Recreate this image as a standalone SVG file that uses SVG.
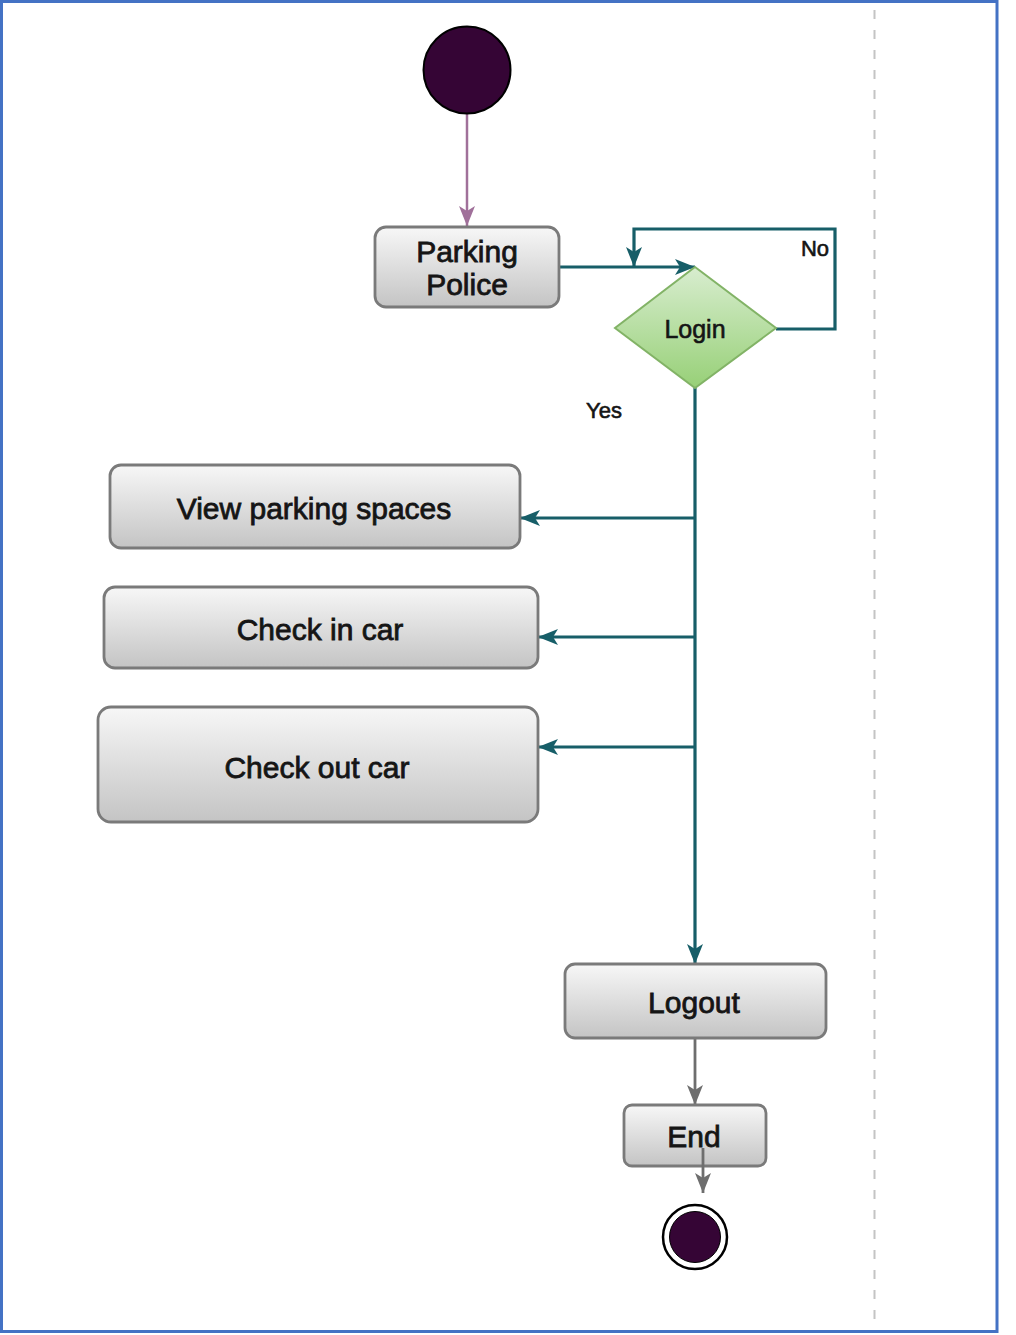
<svg xmlns="http://www.w3.org/2000/svg" width="1016" height="1335" viewBox="0 0 1016 1335">
<defs>
<linearGradient id="gBox" x1="0" y1="0" x2="0" y2="1">
<stop offset="0" stop-color="#f7f7f7"/>
<stop offset="1" stop-color="#c4c4c4"/>
</linearGradient>
<linearGradient id="gDia" x1="0" y1="0" x2="0" y2="1">
<stop offset="0" stop-color="#d8edcf"/>
<stop offset="1" stop-color="#97d077"/>
</linearGradient>
<marker id="aTeal" markerUnits="userSpaceOnUse" markerWidth="22" markerHeight="18" refX="20" refY="9" orient="auto">
<path d="M0,1 L20,9 L0,17 L5,9 Z" fill="#175e68"/>
</marker>
<marker id="aPink" markerUnits="userSpaceOnUse" markerWidth="22" markerHeight="18" refX="20" refY="9" orient="auto">
<path d="M0,1 L20,9 L0,17 L5,9 Z" fill="#a0709a"/>
</marker>
<marker id="aGray" markerUnits="userSpaceOnUse" markerWidth="22" markerHeight="18" refX="20" refY="9" orient="auto">
<path d="M0,1 L20,9 L0,17 L5,9 Z" fill="#6e6e6e"/>
</marker>
</defs>
<style>
.box{fill:url(#gBox);stroke:#7a7a7a;stroke-width:2.8}
.lbl{font-family:"Liberation Sans",Arial,sans-serif;font-size:30px;fill:#151515;text-anchor:middle;stroke:#151515;stroke-width:0.8}
.sm{font-family:"Liberation Sans",Arial,sans-serif;font-size:22px;fill:#151515;text-anchor:middle;stroke:#151515;stroke-width:0.6}
.teal{fill:none;stroke:#175e68;stroke-width:3.2}
</style>
<rect x="1.5" y="1.5" width="995.5" height="1330" fill="#ffffff" stroke="#4472c4" stroke-width="3"/>
<line x1="874.5" y1="10" x2="874.5" y2="1325" stroke="#c4c4c4" stroke-width="2" stroke-dasharray="9,11"/>

<g id="connectors">
<line x1="467" y1="113" x2="467" y2="226" stroke="#a0709a" stroke-width="2.5" marker-end="url(#aPink)"/>
<line x1="560" y1="267" x2="695" y2="267" class="teal" marker-end="url(#aTeal)"/>
<polyline points="776,329 835,329 835,229 634,229 634,267" class="teal" marker-end="url(#aTeal)"/>
<line x1="695" y1="388" x2="695" y2="964" class="teal" marker-end="url(#aTeal)"/>
<line x1="695" y1="518" x2="520" y2="518" class="teal" marker-end="url(#aTeal)"/>
<line x1="695" y1="637" x2="538" y2="637" class="teal" marker-end="url(#aTeal)"/>
<line x1="695" y1="747" x2="538" y2="747" class="teal" marker-end="url(#aTeal)"/>
<line x1="695" y1="1038" x2="695" y2="1105" stroke="#6e6e6e" stroke-width="2.8" marker-end="url(#aGray)"/>
<text x="815" y="256" class="sm">No</text>
<text x="604" y="418" class="sm">Yes</text>
</g>

<g id="start">
<circle cx="467" cy="70" r="43.5" fill="#350535" stroke="#000" stroke-width="2"/>
</g>

<g id="parking-police">
<rect x="375" y="227" width="184" height="80" rx="11" class="box"/>
<text x="467" y="262" class="lbl">Parking</text>
<text x="467" y="295" class="lbl">Police</text>
</g>

<g id="login">
<polygon points="695,267 776,328 695,388 615,328" fill="url(#gDia)" stroke="#82b366" stroke-width="2"/>
<text x="695" y="338" class="sm" style="font-size:25px">Login</text>
</g>

<g id="view-parking">
<rect x="110" y="465" width="410" height="83" rx="11" class="box"/>
<text x="314" y="519" class="lbl">View parking spaces</text>
</g>

<g id="check-in">
<rect x="104" y="587" width="434" height="81" rx="11" class="box"/>
<text x="320" y="640" class="lbl">Check in car</text>
</g>

<g id="check-out">
<rect x="98" y="707" width="440" height="115" rx="13" class="box"/>
<text x="317" y="778" class="lbl">Check out car</text>
</g>

<g id="logout">
<rect x="565" y="964" width="261" height="74" rx="10" class="box"/>
<text x="694" y="1013" class="lbl">Logout</text>
</g>

<g id="end">
<rect x="624" y="1105" width="142" height="61" rx="8" class="box"/>
<text x="694" y="1147" class="lbl">End</text>
<line x1="703" y1="1148" x2="703" y2="1193" stroke="#6e6e6e" stroke-width="2.8" marker-end="url(#aGray)"/>
</g>

<g id="final">
<circle cx="695" cy="1237" r="32" fill="#ffffff" stroke="#000" stroke-width="2.5"/>
<circle cx="695" cy="1237" r="25.5" fill="#350535" stroke="#000" stroke-width="1"/>
</g>
</svg>
